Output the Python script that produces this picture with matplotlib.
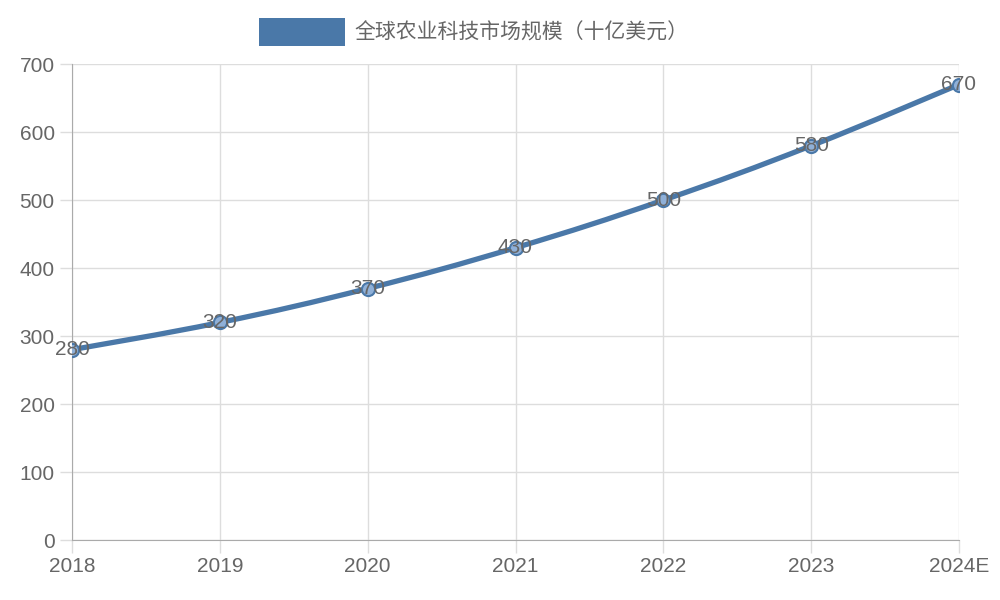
import matplotlib.pyplot as plt
from matplotlib.path import Path
from matplotlib.patches import PathPatch, Rectangle
import numpy as np

plt.rcParams['font.family'] = ['Liberation Sans', 'Noto Sans CJK SC', 'DejaVu Sans']

years = ['2018', '2019', '2020', '2021', '2022', '2023', '2024E']
values = [280, 320, 370, 430, 500, 580, 670]
series_name = '全球农业科技市场规模（十亿美元）'

line_color = '#4a78a8'
text_color = '#666666'

fig = plt.figure(figsize=(10, 6), dpi=100)
ax = fig.add_axes([0.072, 0.10, 0.887, 0.793])

x = np.arange(len(values))
y = np.array(values, dtype=float)

# smooth curve through points with bezier segments (Catmull-Rom style)
t = 0.4
verts = [(x[0], y[0])]
codes = [Path.MOVETO]
for i in range(len(x) - 1):
    p0 = (x[max(i - 1, 0)], y[max(i - 1, 0)])
    p1 = (x[i], y[i])
    p2 = (x[i + 1], y[i + 1])
    p3 = (x[min(i + 2, len(x) - 1)], y[min(i + 2, len(x) - 1)])
    c1 = (p1[0] + (p2[0] - p0[0]) * t / 2, p1[1] + (p2[1] - p0[1]) * t / 2)
    c2 = (p2[0] - (p3[0] - p1[0]) * t / 2, p2[1] - (p3[1] - p1[1]) * t / 2)
    verts += [c1, c2, p2]
    codes += [Path.CURVE4] * 3
ax.add_patch(PathPatch(Path(verts, codes), fill=False, edgecolor=line_color,
                       lw=3.8, capstyle='round', zorder=3))
ax.scatter(x, y, s=90, color='#8fb0d8', edgecolors=line_color, linewidths=1.5, zorder=4)

for xi, v in zip(x, values):
    ax.text(xi, v, str(v), ha='center', va='center', fontsize=15, color=text_color, zorder=5)

ax.set_xlim(0, len(values) - 1)
ax.set_ylim(0, 700)
ax.set_yticks(range(0, 701, 100))
ax.set_xticks(x)
ax.set_xticklabels(years)
ax.grid(True, color='#dddddd', lw=1)
ax.set_axisbelow(True)
ax.tick_params(colors='#dddddd', labelcolor=text_color, labelsize=15, length=9, width=1)
for s in ['top', 'right']:
    ax.spines[s].set_visible(False)
for s in ['left', 'bottom']:
    ax.spines[s].set_color('#aaaaaa')

# legend
fig.patches.append(Rectangle((0.259, 0.923), 0.086, 0.047, transform=fig.transFigure,
                             facecolor=line_color, edgecolor='none'))
fig.text(0.354, 0.946, series_name, ha='left', va='center', fontsize=15,
         color=text_color, family=['Noto Sans CJK SC', 'DejaVu Sans'])

fig.savefig('out.png', dpi=100)
